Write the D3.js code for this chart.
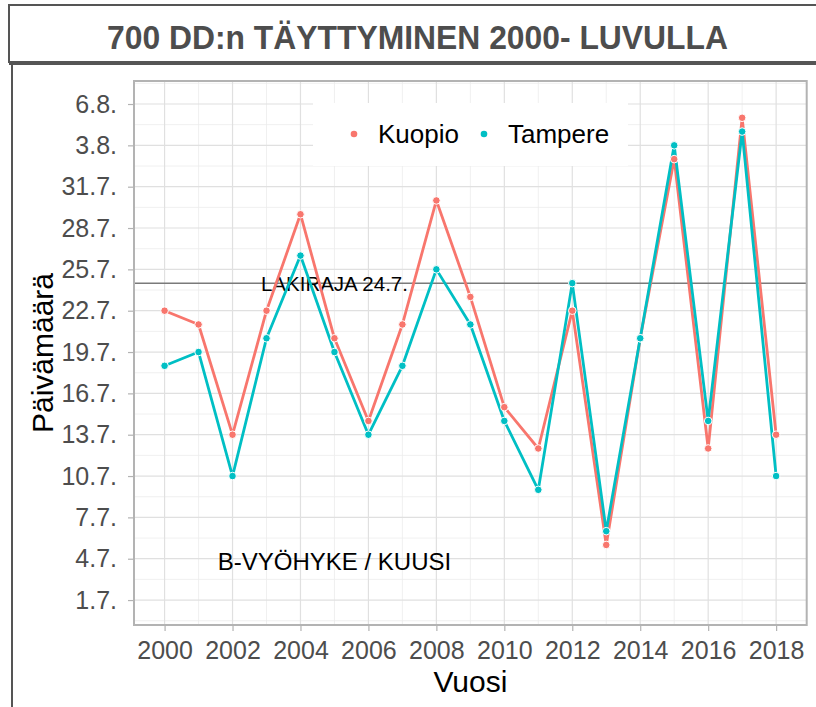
<!DOCTYPE html>
<html>
<head>
<meta charset="utf-8">
<script src="https://cdn.jsdelivr.net/npm/d3@7"></script>
<style>
  body { margin: 0; background: #fff; }
  text { font-family: "Liberation Sans", Arial, sans-serif; }
</style>
</head>
<body>
<div id="chart"></div>
<script>
// years on the x axis
const years = d3.range(2000, 2019);
// day the 700 DD sum was reached, counted as day of July (32 = 1.8.)
const kuopio  = [22, 21, 13, 22, 29, 20, 14, 21, 30, 23, 15, 12, 22, 5, 20, 33, 12, 36, 13];
const tampere = [18, 19, 10, 20, 26, 19, 13, 18, 25, 21, 14, 9, 24, 6, 20, 34, 14, 35, 10];
const seriesNames = ["Kuopio", "Tampere"];
const seriesColors = ["#F8766D", "#00BFC4"];
// y ticks (day of July) and their labels
const yTickValues = [1, 4, 7, 10, 13, 16, 19, 22, 25, 28, 31, 34, 37];
const yTickLabels = ["1.7.", "4.7.", "7.7.", "10.7.", "13.7.", "16.7.", "19.7.", "22.7.", "25.7.", "28.7.", "31.7.", "3.8.", "6.8."];
const xTickValues = d3.range(2000, 2019, 2);
const limitDay = 24; // LAKIRAJA 24.7.

const W = 816, H = 707;
const margin = {top: 81, right: 816 - 806.7, bottom: 707 - 625, left: 134};

const svg = d3.select("#chart").append("svg")
  .attr("width", W)
  .attr("height", H);

// outer frames
svg.append("rect")
  .attr("x", 9).attr("y", 5)
  .attr("width", 830).attr("height", 57)
  .attr("fill", "none").attr("stroke", "#555").attr("stroke-width", 2);
svg.append("line")
  .attr("x1", 12).attr("x2", 12).attr("y1", 62).attr("y2", H + 5)
  .attr("stroke", "#555").attr("stroke-width", 2);
svg.append("line")
  .attr("x1", 9).attr("x2", W).attr("y1", 64).attr("y2", 64)
  .attr("stroke", "#555").attr("stroke-width", 2);

svg.append("text")
  .attr("x", 417.5).attr("y", 49)
  .attr("text-anchor", "middle")
  .attr("textLength", 621)
  .attr("lengthAdjust", "spacingAndGlyphs")
  .style("font-family", "'Liberation Sans Narrow', 'Liberation Sans', sans-serif")
  .style("font-weight", "bold")
  .style("font-size", "33px")
  .attr("fill", "#4d4d4d")
  .text("700 DD:n TÄYTTYMINEN 2000- LUVULLA");

const x = d3.scaleLinear()
  .domain([1999.1, 2018.9])
  .range([margin.left, W - margin.right]);
const y = d3.scaleLinear()
  .domain([-0.81, 38.67])
  .range([H - margin.bottom, margin.top]);

const g = svg.append("g");

// minor grid
const xMinor = d3.range(2001, 2019, 2);
const yMinor = d3.range(-0.5, 38.67, 3);
g.selectAll(".xminor").data(xMinor).enter().append("line")
  .attr("x1", d => x(d)).attr("x2", d => x(d))
  .attr("y1", y.range()[1]).attr("y2", y.range()[0])
  .attr("stroke", "#ececec").attr("stroke-width", 0.8);
g.selectAll(".yminor").data(yMinor).enter().append("line")
  .attr("x1", x.range()[0]).attr("x2", x.range()[1])
  .attr("y1", d => y(d)).attr("y2", d => y(d))
  .attr("stroke", "#ececec").attr("stroke-width", 0.8);

// major grid
g.selectAll(".xmajor").data(xTickValues).enter().append("line")
  .attr("x1", d => x(d)).attr("x2", d => x(d))
  .attr("y1", y.range()[1]).attr("y2", y.range()[0])
  .attr("stroke", "#e0e0e0").attr("stroke-width", 1.2);
g.selectAll(".ymajor").data(yTickValues).enter().append("line")
  .attr("x1", x.range()[0]).attr("x2", x.range()[1])
  .attr("y1", d => y(d)).attr("y2", d => y(d))
  .attr("stroke", "#e0e0e0").attr("stroke-width", 1.2);

// legend box (inside panel)
const legend = svg.append("g");
legend.append("rect")
  .attr("x", 313).attr("y", 103).attr("width", 315).attr("height", 63)
  .attr("fill", "#fff");
const legX = [354, 484];
seriesNames.forEach((name, i) => {
  legend.append("circle")
    .attr("cx", legX[i]).attr("cy", 134).attr("r", 3.3)
    .attr("fill", seriesColors[i]);
  legend.append("text")
    .attr("x", legX[i] + 24).attr("y", 143)
    .style("font-size", "26px")
    .attr("fill", "#000")
    .text(name);
});

// law limit line
svg.append("line")
  .attr("x1", x.range()[0]).attr("x2", x.range()[1])
  .attr("y1", y(limitDay)).attr("y2", y(limitDay))
  .attr("stroke", "#7a7a7a").attr("stroke-width", 1.5);

svg.append("text")
  .attr("x", x(2005)).attr("y", y(limitDay))
  .attr("dy", "0.36em")
  .attr("text-anchor", "middle")
  .style("font-size", "20.5px")
  .attr("fill", "#000")
  .text("LAKIRAJA 24.7.");

svg.append("text")
  .attr("x", x(2005)).attr("y", y(3.83))
  .attr("dy", "0.36em")
  .attr("text-anchor", "middle")
  .style("font-size", "24px")
  .attr("fill", "#000")
  .text("B-VYÖHYKE / KUUSI");

// lines then points
const series = [kuopio, tampere];
const line = d3.line()
  .x((d, i) => x(years[i]))
  .y(d => y(d));
series.forEach((vals, s) => {
  svg.append("path")
    .attr("d", line(vals))
    .attr("fill", "none")
    .attr("stroke", seriesColors[s])
    .attr("stroke-width", 2.8)
    .attr("stroke-linejoin", "round");
});
series.forEach((vals, s) => {
  svg.selectAll(".pt" + s).data(vals).enter().append("circle")
    .attr("cx", (d, i) => x(years[i]))
    .attr("cy", d => y(d))
    .attr("r", 3.8)
    .attr("fill", seriesColors[s])
    .attr("stroke", "#fff")
    .attr("stroke-width", 1);
});

// panel border
svg.append("rect")
  .attr("x", x.range()[0]).attr("y", y.range()[1])
  .attr("width", x.range()[1] - x.range()[0])
  .attr("height", y.range()[0] - y.range()[1])
  .attr("fill", "none").attr("stroke", "#b3b3b3").attr("stroke-width", 2);

// axes
const xAxis = svg.append("g")
  .attr("transform", "translate(0," + y.range()[0] + ")")
  .call(d3.axisBottom(x).tickValues(xTickValues).tickFormat(d3.format("d")).tickSize(6).tickPadding(10));
const yAxis = svg.append("g")
  .attr("transform", "translate(" + x.range()[0] + ",0)")
  .call(d3.axisLeft(y).tickValues(yTickValues).tickFormat((d, i) => yTickLabels[i]).tickSize(6).tickPadding(11));
[xAxis, yAxis].forEach(ax => {
  ax.select(".domain").remove();
  ax.selectAll(".tick line").attr("stroke", "#b3b3b3").attr("stroke-width", 1.2);
  ax.selectAll(".tick text")
    .attr("fill", "#4d4d4d")
    .style("font-family", "'Liberation Sans', Arial, sans-serif")
    .style("font-size", "25px");
});

// axis titles
svg.append("text")
  .attr("x", (x.range()[0] + x.range()[1]) / 2).attr("y", 692)
  .attr("text-anchor", "middle")
  .style("font-size", "30px")
  .attr("fill", "#000")
  .text("Vuosi");
svg.append("text")
  .attr("transform", "translate(53," + (y.range()[0] + y.range()[1]) / 2 + ") rotate(-90)")
  .attr("text-anchor", "middle")
  .style("font-size", "30px")
  .attr("fill", "#000")
  .text("Päivämäärä");
</script>
</body>
</html>
